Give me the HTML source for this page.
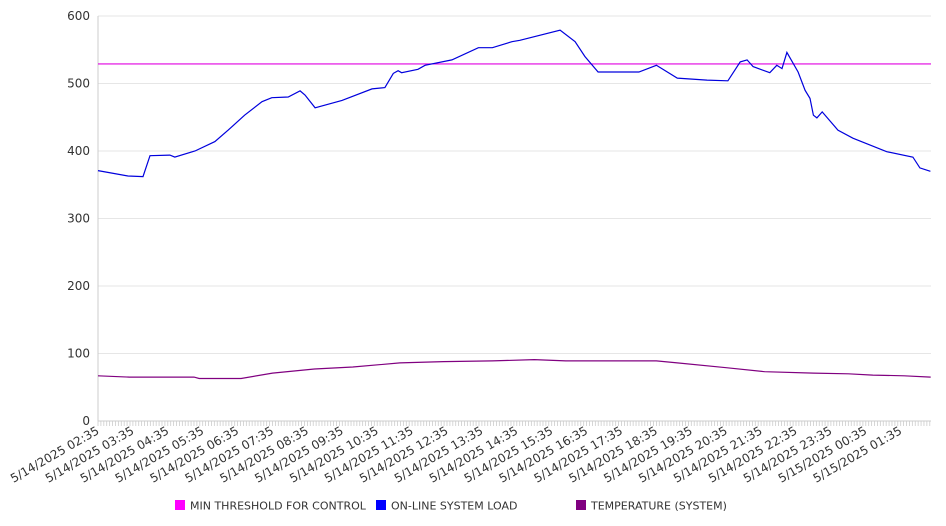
<!DOCTYPE html>
<html><head><meta charset="utf-8"><style>
body{margin:0;background:#fff;}
svg{display:block;font-family:"DejaVu Sans","Liberation Sans",sans-serif;}
</style></head><body>
<svg id="chart" width="946" height="526" viewBox="0 0 946 526" xmlns="http://www.w3.org/2000/svg"></svg>
<script>
// data (hours offset from 5/14/2025 02:35, value)
const loadHours = [0,0.2,0.86,1.29,1.49,2.06,2.2,2.78,3.35,3.73,4.2,4.7,4.98,5.45,5.79,5.93,6.22,6.99,7.85,8.22,8.46,8.6,8.7,9.17,9.37,10.14,10.9,11.3,11.86,12.09,13.24,13.67,13.95,14.33,15.5,16.0,16.6,17.45,18.05,18.4,18.6,18.77,19.25,19.45,19.6,19.74,20.06,20.26,20.4,20.5,20.6,20.75,21.2,21.63,22.6,23.35,23.55,23.85];
const loadValues = [371,369,363,362,393,394,391,400,414,431,453,473,479,480,489,483,464,475,492,494,515,519,516,521,527,535,553,553,562,564,579,562,540,517,517,527,508,505,504,532,535,525,516,527,522,546,517,490,478,453,449,458,431,419,399,391,375,370];
const tempHours = [0,0.9,2.75,2.9,4.1,5.0,6.2,7.3,8.65,9.9,11.3,12.5,13.4,15.4,16.0,16.6,18.0,19.1,20.5,21.5,22.2,23.1,23.86];
const tempValues = [67,65,65,63,63,71,77,80,86,88,89,91,89,89,89,86,79,73,71,70,68,67,65];
const threshold = 529;
const yTicks = [0,100,200,300,400,500,600];
const xLabels = ["5/14/2025 02:35","5/14/2025 03:35","5/14/2025 04:35","5/14/2025 05:35","5/14/2025 06:35","5/14/2025 07:35","5/14/2025 08:35","5/14/2025 09:35","5/14/2025 10:35","5/14/2025 11:35","5/14/2025 12:35","5/14/2025 13:35","5/14/2025 14:35","5/14/2025 15:35","5/14/2025 16:35","5/14/2025 17:35","5/14/2025 18:35","5/14/2025 19:35","5/14/2025 20:35","5/14/2025 21:35","5/14/2025 22:35","5/14/2025 23:35","5/15/2025 00:35","5/15/2025 01:35"];

const NS="http://www.w3.org/2000/svg";
const svg=document.getElementById('chart');
const X0=98,X1=931,PX_PER_H=34.9,Y0=421,Y600=16;
const xs=h=>X0+h*PX_PER_H;
const ys=v=>Y0-(v/600)*(Y0-Y600);
function mk(tag,attrs){const e=document.createElementNS(NS,tag);for(const k in attrs)e.setAttribute(k,attrs[k]);svg.appendChild(e);return e;}

yTicks.forEach(t=>{
  if(t>0){const g=mk('line',{x1:X0,x2:X1,y1:ys(t),y2:ys(t),stroke:'#e6e6e6','stroke-width':1});
  
  }
  const l=mk('text',{x:90,y:ys(t)+4,'text-anchor':'end','font-size':12,fill:'#333'});
  l.textContent=t;
  
  
});
const ya=mk('line',{x1:X0,x2:X0,y1:Y600,y2:Y0,stroke:'#ccc','stroke-width':1});


const xa=mk('line',{x1:X0,x2:X1,y1:Y0,y2:Y0,stroke:'#ccc','stroke-width':1});


for(let m=0;m<=23.87*60;m+=5){
  const tk=mk('line',{x1:xs(m/60),x2:xs(m/60),y1:Y0,y2:Y0+5,stroke:'#ccc','stroke-width':0.8});
  
  
}
xLabels.forEach((s,i)=>{
  const x=xs(i)+2,y=Y0+12;
  const t=mk('text',{x:x,y:y,'text-anchor':'end','font-size':12,fill:'#333',transform:`rotate(-30 ${x} ${y})`});
  t.textContent=s;
  
  
});
const th=mk('line',{x1:X0,x2:X1,y1:ys(threshold),y2:ys(threshold),stroke:'#e000e0','stroke-width':1.2});


function line(hs,vs,color,name){
  const p=mk('polyline',{points:hs.map((h,i)=>xs(h).toFixed(1)+','+ys(vs[i]).toFixed(1)).join(' '),fill:'none',stroke:color,'stroke-width':1.2});
  
  
}
line(loadHours,loadValues,'#0000dd','online-system-load-line');
line(tempHours,tempValues,'#800080','temperature-line');

const legend=[["MIN THRESHOLD FOR CONTROL","#ff00ff",175],["ON-LINE SYSTEM LOAD","#0000ff",376],["TEMPERATURE (SYSTEM)","#800080",576]];
legend.forEach(([lab,c,x])=>{
  const r=mk('rect',{x:x,y:500,width:10,height:10,fill:c});
  
  
  const t=mk('text',{x:x+15,y:509.5,'font-size':11,fill:'#333'});
  t.textContent=lab;
  
  
});
</script>
</body></html>
